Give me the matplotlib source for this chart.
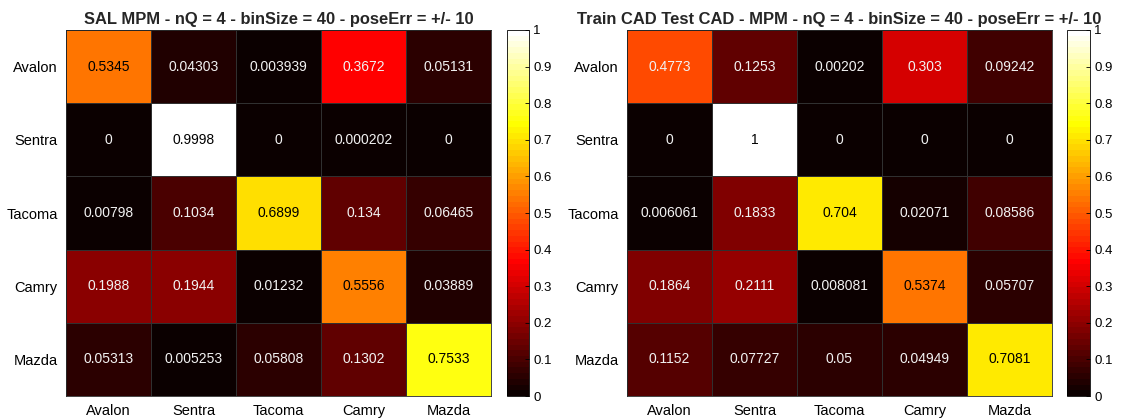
import matplotlib; matplotlib.use('Agg')
import matplotlib.pyplot as plt
import numpy as np
from matplotlib.colors import ListedColormap

plt.rcParams.update({'font.family': ['Liberation Sans', 'DejaVu Sans'], 'font.size': 10})

cars = ['Avalon', 'Sentra', 'Tacoma', 'Camry', 'Mazda']

sal_mpm = np.array([
    [0.5345, 0.04303, 0.003939, 0.3672, 0.05131],
    [0, 0.9998, 0, 0.000202, 0],
    [0.00798, 0.1034, 0.6899, 0.134, 0.06465],
    [0.1988, 0.1944, 0.01232, 0.5556, 0.03889],
    [0.05313, 0.005253, 0.05808, 0.1302, 0.7533],
])
cad_mpm = np.array([
    [0.4773, 0.1253, 0.00202, 0.303, 0.09242],
    [0, 1, 0, 0, 0],
    [0.006061, 0.1833, 0.704, 0.02071, 0.08586],
    [0.1864, 0.2111, 0.008081, 0.5374, 0.05707],
    [0.1152, 0.07727, 0.05, 0.04949, 0.7081],
])
titles = ['SAL MPM - nQ = 4 - binSize = 40 - poseErr = +/- 10',
          'Train CAD Test CAD - MPM - nQ = 4 - binSize = 40 - poseErr = +/- 10']

# MATLAB-style hot(64)
m = 64
n1 = int(3 / 8 * m)
r = np.concatenate([np.arange(1, n1 + 1) / n1, np.ones(m - n1)])
g = np.concatenate([np.zeros(n1), np.arange(1, n1 + 1) / n1, np.ones(m - 2 * n1)])
b = np.concatenate([np.zeros(2 * n1), np.arange(1, m - 2 * n1 + 1) / (m - 2 * n1)])
hot64 = ListedColormap(np.column_stack([r, g, b]))

fig = plt.figure(figsize=(11.28, 4.19), dpi=100)
W, H = 1128, 419
layout = [(66, 491, 507, 529), (627, 1052, 1067, 1090)]
top, bot = 30, 396

for (x0, x1, c0, c1), data, title in zip(layout, [sal_mpm, cad_mpm], titles):
    ax = fig.add_axes([x0 / W, 1 - bot / H, (x1 - x0) / W, (bot - top) / H])
    im = ax.pcolormesh(data, cmap=hot64, vmin=0, vmax=1,
                       edgecolor='#303030', linewidth=0.4)
    ax.set_xlim(0, 5)
    ax.set_ylim(5, 0)
    ax.set_xticks(np.arange(5) + 0.5)
    ax.set_yticks(np.arange(5) + 0.5)
    ax.set_xticklabels(cars, fontsize=10.5)
    ax.set_yticklabels(cars, fontsize=10.5)
    ax.tick_params(length=0, pad=6)
    for s in ax.spines.values():
        s.set_color('#262626')
        s.set_linewidth(0.6)
    ax.set_title(title, fontsize=11.9, fontweight='bold', color='#262626', pad=4)
    for i in range(5):
        for j in range(5):
            v = data[i, j]
            ax.text(j + 0.5, i + 0.5, f'{v:.4g}', ha='center', va='center',
                    fontsize=10, color='black' if v >= 0.5 else '#f2f2f2')

    cax = fig.add_axes([c0 / W, 1 - bot / H, (c1 - c0) / W, (bot - top) / H])
    cb = fig.colorbar(im, cax=cax)
    cb.set_ticks(np.round(np.arange(0, 1.01, 0.1), 1))
    cb.set_ticklabels(['0', '0.1', '0.2', '0.3', '0.4', '0.5', '0.6', '0.7', '0.8', '0.9', '1'])
    cax.tick_params(direction='in', length=3, width=0.6, labelsize=9.5, pad=3)
    cb.outline.set_linewidth(0.6)

fig.savefig('out.png', dpi=100)
